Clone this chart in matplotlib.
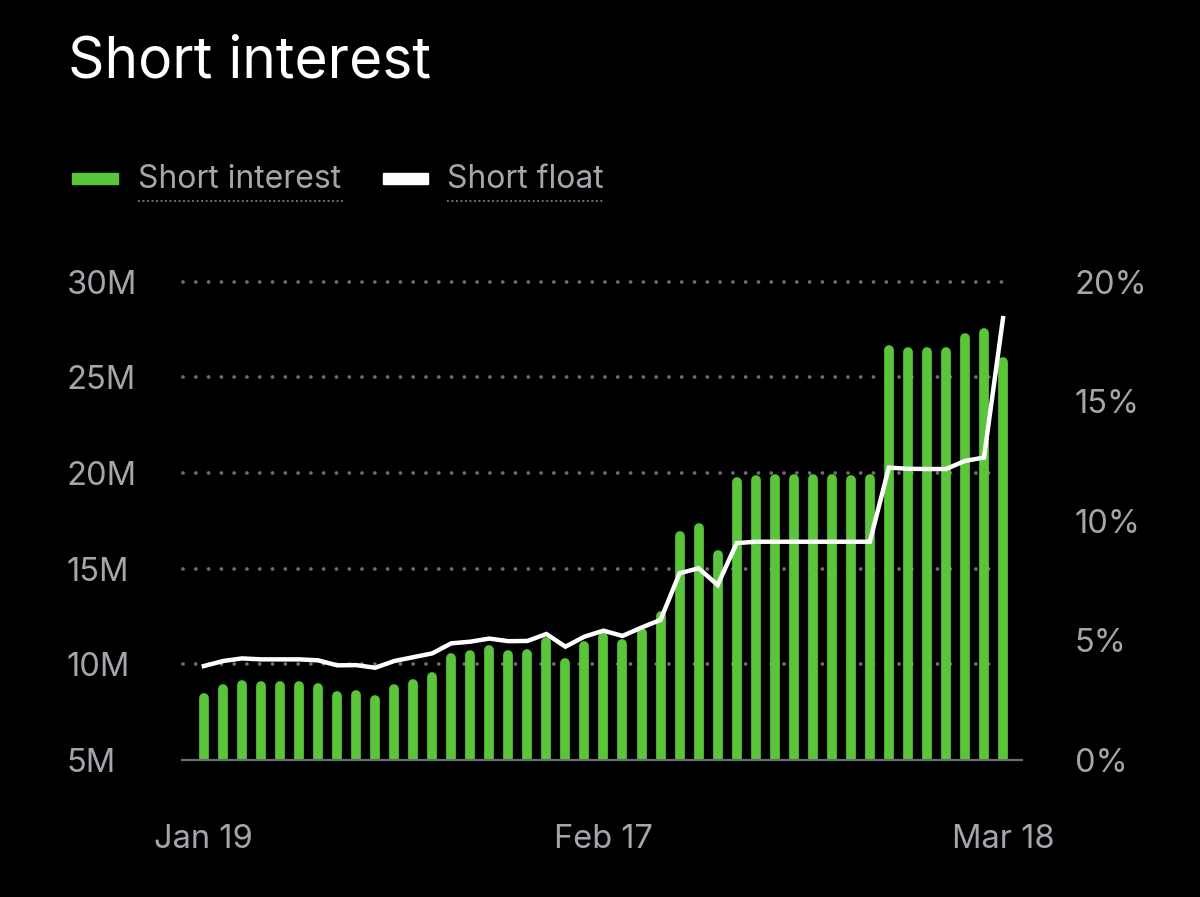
import matplotlib
matplotlib.use('Agg')
import matplotlib.pyplot as plt
import numpy as np

# short interest in millions of shares, one bar per day
short_interest = [8.49, 8.97, 9.18, 9.12, 9.15, 9.13, 9.03, 8.59, 8.66, 8.40,
                  8.96, 9.25, 9.60, 10.58, 10.74, 11.01, 10.75, 10.81, 11.45, 10.33,
                  11.21, 11.71, 11.31, 11.89, 12.76, 16.99, 17.38, 15.98, 19.78, 19.90,
                  19.94, 19.92, 19.93, 19.92, 19.90, 19.92, 26.70, 26.58, 26.60, 26.57,
                  27.32, 27.58, 26.06]
# short float in percent
short_float = [3.93, 4.14, 4.25, 4.21, 4.21, 4.21, 4.17, 3.96, 3.97, 3.86,
               4.14, 4.30, 4.46, 4.88, 4.95, 5.08, 4.97, 4.98, 5.27, 4.74,
               5.16, 5.41, 5.19, 5.54, 5.86, 7.81, 8.02, 7.32, 9.07, 9.13,
               9.13, 9.13, 9.13, 9.13, 9.13, 9.13, 12.23, 12.18, 12.17, 12.17,
               12.51, 12.65, 18.48]
xtick_pos = [0, 21, 42]
xtick_labels = ['Jan 19', 'Feb 17', 'Mar 18']
left_ticks = [5, 10, 15, 20, 25, 30]
left_labels = ['5M', '10M', '15M', '20M', '25M', '30M']
right_ticks = [0, 5, 10, 15, 20]
right_labels = ['0%', '5%', '10%', '15%', '20%']

GREEN = '#5ac53b'
GRAY = '#a3a7ac'
GRID = '#6c6f73'
FONT = ['Inter', 'DejaVu Sans']

plt.rcParams['font.family'] = FONT
fig = plt.figure(figsize=(12, 8.97), dpi=100, facecolor='black')
ax = fig.add_axes([0.1517, 0.1527, 0.70, 0.5374])
ax.set_facecolor('black')

x = np.arange(len(short_interest))
ymin, ymax = 5, 30.2
ax.set_xlim(-1.15, 43.0)
ax.set_ylim(ymin, ymax)

# dotted grid
for t in left_ticks[1:]:
    ax.plot([-1.1, 42.6], [t, t], color=GRID, lw=2.7, linestyle=(0, (0.01, 3.4)),
            dash_capstyle='round', clip_on=False, zorder=1)
ax.axhline(ymin, color='#6a6e74', lw=1.6, zorder=3, clip_on=False)

# bars with rounded tops (pull the line end down by the cap radius)
bar_lw = 7
px_per_unit = 0.5374 * fig.get_figheight() * fig.dpi / (ymax - ymin)
cap = bar_lw / 2 * fig.dpi / 72 / px_per_unit
ax.vlines(x, ymin - 1, np.array(short_interest) - cap, color=GREEN, lw=bar_lw,
          capstyle='round', zorder=2)

ax2 = ax.twinx()
ax2.set_ylim(0, 20 * (ymax - ymin) / 25)
ax2.plot(x, short_float, color='white', lw=3.2, solid_joinstyle='miter', zorder=4)

for a in (ax, ax2):
    for s in a.spines.values():
        s.set_visible(False)
    a.tick_params(length=0, colors=GRAY, labelsize=23.5)

ax.set_xticks(xtick_pos)
ax.set_xticklabels(xtick_labels)
ax.tick_params(axis='x', pad=46)
ax.set_yticks(left_ticks)
ax.set_yticklabels(left_labels, ha='left')
ax.tick_params(axis='y', pad=83)
ax2.set_yticks(right_ticks)
ax2.set_yticklabels(right_labels, ha='left')
ax2.tick_params(axis='y', pad=38)

# title and legend
fig.text(68 / 1200, 1 - 62 / 897, 'Short interest', color='white', fontsize=41,
         va='center', ha='left')
fig.patches.append(plt.Rectangle((72 / 1200, 1 - 184 / 897), 46 / 1200, 11 / 897,
                                 transform=fig.transFigure, color=GREEN, figure=fig))
fig.patches.append(plt.Rectangle((383 / 1200, 1 - 184 / 897), 45 / 1200, 11 / 897,
                                 transform=fig.transFigure, color='white', figure=fig))
fig.text(138 / 1200, 1 - 179 / 897, 'Short interest', color=GRAY, fontsize=23,
         va='center', ha='left')
fig.text(447 / 1200, 1 - 179 / 897, 'Short float', color=GRAY, fontsize=23,
         va='center', ha='left')
for x0, x1 in [(138, 343), (447, 603)]:
    fig.add_artist(plt.Line2D([x0 / 1200, x1 / 1200], [1 - 201 / 897, 1 - 201 / 897],
                              transform=fig.transFigure, color='#7d8186', lw=1.3,
                              linestyle=(0, (1, 1.5))))

fig.savefig('out.png', dpi=100, facecolor='black')
